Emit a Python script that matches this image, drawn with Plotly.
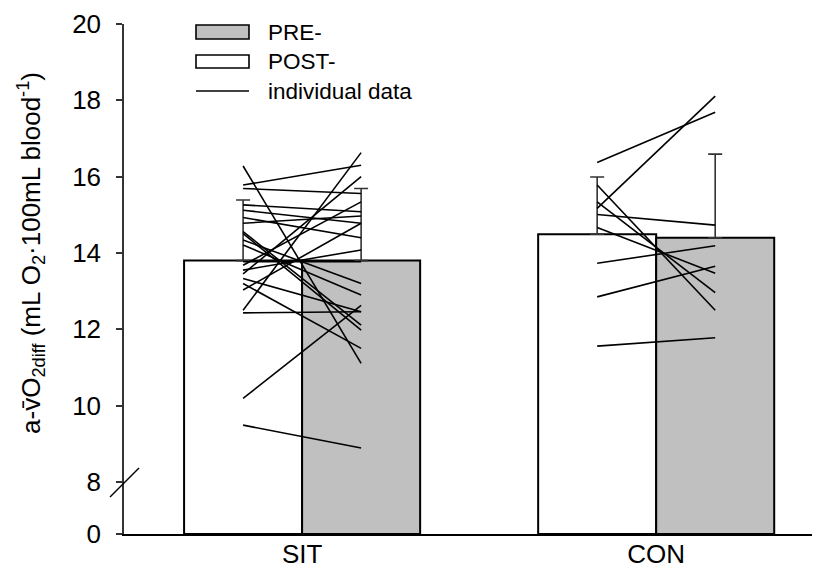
import plotly.graph_objects as go
from plotly.subplots import make_subplots

# ---------------- data ----------------
groups = ["SIT", "CON"]
post_mean = [13.80, 14.49]   # white bars (left)
post_sd = [1.59, 1.50]
pre_mean = [13.80, 14.40]    # grey bars (right)
pre_sd = [1.89, 2.19]

# individual data: value at white bar -> value at grey bar
sit_left = [16.28, 15.78, 15.69, 15.26, 15.12, 14.93, 14.78, 14.56, 14.51, 14.34, 14.21,
            13.77, 13.68, 13.55, 13.45, 13.33, 13.20, 13.03, 12.50, 12.43, 10.19, 9.49]
sit_right = [11.11, 16.30, 15.56, 15.08, 14.78, 14.40, 14.97, 12.11, 11.98, 13.20, 12.90,
             13.77, 15.34, 14.08, 16.00, 12.46, 11.50, 14.78, 16.63, 12.46, 12.63, 8.89]
con_left = [16.37, 15.17, 15.78, 15.34, 15.01, 14.67, 13.73, 12.85, 11.56]
con_right = [17.69, 18.11, 12.50, 12.96, 14.73, 13.47, 14.19, 13.65, 11.78]

upper_ticks = [8, 10, 12, 14, 16, 18, 20]
lower_ticks = [0]
legend_labels = ["PRE-", "POST-", "individual data"]

# ---------------- figure ----------------
FONT = "Liberation Sans, Arial, sans-serif"
OFF = 8                       # page body margin of the browser
W, H = 820 - OFF, 569 - OFF
ML, MR, MT, MB = 124 - OFF, 2, 24 - OFF, 35
PW, PH = W - ML - MR, H - MT - MB

def px_x(p):                  # window pixel -> paper
    return (p - OFF - ML) / PW

def px_y(p):
    return (H - MB - (p - OFF)) / PH

bargap = 1 / 3
half = (1 - bargap) / 4          # half width of one bar in a group of two
xs = list(range(len(groups)))

fig = make_subplots(rows=2, cols=1, shared_xaxes=True, vertical_spacing=0,
                    row_heights=[0.898, 0.102])

for row in (1, 2):
    first = row == 1
    fig.add_trace(go.Bar(
        x=xs, y=post_mean, name="POST-", showlegend=False,
        marker=dict(color="white", line=dict(color="black", width=2)),
        error_y=dict(type="data", symmetric=False, array=post_sd,
                     arrayminus=[0] * len(xs), color="#333333", thickness=1.6,
                     width=7, visible=first),
    ), row=row, col=1)
    fig.add_trace(go.Bar(
        x=xs, y=pre_mean, name="PRE-", showlegend=False,
        marker=dict(color="#c0c0c0", line=dict(color="black", width=2)),
        error_y=dict(type="data", symmetric=False, array=pre_sd,
                     arrayminus=[0] * len(xs), color="#333333", thickness=1.6,
                     width=7, visible=first),
    ), row=row, col=1)

# individual lines in one trace
lx, ly = [], []
for g, (lefts, rights) in enumerate([(sit_left, sit_right), (con_left, con_right)]):
    for a, b in zip(lefts, rights):
        lx += [g - half, g + half, None]
        ly += [a, b, None]
fig.add_trace(go.Scatter(x=lx, y=ly, mode="lines", name="individual data",
                         showlegend=False, line=dict(color="black", width=1.6),
                         connectgaps=False), row=1, col=1)

# ---- hand-drawn legend (wide swatches as in the reference) + axis break ----
shapes = [
    dict(type="line", xref="paper", yref="paper",
         x0=px_x(110), y0=px_y(497), x1=px_x(139), y1=px_y(468),
         line=dict(color="black", width=1.5)),
    dict(type="rect", xref="paper", yref="paper",
         x0=px_x(196), x1=px_x(249), y0=px_y(39), y1=px_y(25),
         fillcolor="#c0c0c0", line=dict(color="black", width=1.6)),
    dict(type="rect", xref="paper", yref="paper",
         x0=px_x(196), x1=px_x(249), y0=px_y(68), y1=px_y(55),
         fillcolor="white", line=dict(color="black", width=1.6)),
    dict(type="line", xref="paper", yref="paper",
         x0=px_x(196), x1=px_x(249), y0=px_y(91), y1=px_y(91),
         line=dict(color="black", width=1.4)),
]
annotations = [
    dict(text=t, xref="paper", yref="paper", x=px_x(266), y=px_y(yy),
         xanchor="left", yanchor="middle", showarrow=False,
         font=dict(size=22.5, color="black", family=FONT))
    for t, yy in zip(legend_labels, [32, 62, 92])
]

xrange = [-0.503, 1.457]
fig.update_layout(
    width=W, height=H,
    margin=dict(l=ML, r=MR, t=MT, b=MB, autoexpand=False),
    paper_bgcolor="white", plot_bgcolor="white",
    barmode="group", bargap=bargap, bargroupgap=0,
    font=dict(family=FONT, size=26, color="black"),
    showlegend=False,
    xaxis=dict(range=xrange, showticklabels=False, showline=False, ticks="",
               showgrid=False, zeroline=False, automargin=False),
    xaxis2=dict(range=xrange, tickvals=xs, ticktext=groups, ticks="",
                showline=True, linecolor="black", linewidth=2,
                tickfont=dict(size=26), ticklabelstandoff=-4,
                showgrid=False, zeroline=False, automargin=False),
    yaxis=dict(range=[8, 20], tickvals=upper_ticks, ticks="outside", ticklen=6,
               tickcolor="#333333", tickwidth=1.5, showline=True,
               linecolor="#333333", linewidth=1.5, showgrid=False, zeroline=False,
               tickfont=dict(size=26), ticklabelstandoff=10, automargin=False,
               title=dict(text="a-v\u0304O<sub>2diff</sub> (mL O<sub>2</sub>\u00b7100mL blood<sup>-1</sup>)",
                          font=dict(size=26), standoff=24)),
    yaxis2=dict(range=[0, 8], tickvals=lower_ticks, ticks="outside", ticklen=6,
                tickcolor="#333333", tickwidth=1.5, showline=True,
                linecolor="#333333", linewidth=1.5, showgrid=False, zeroline=False,
                tickfont=dict(size=26), ticklabelstandoff=10, automargin=False),
    shapes=shapes,
    annotations=annotations,
)

fig.write_html("out.html")
